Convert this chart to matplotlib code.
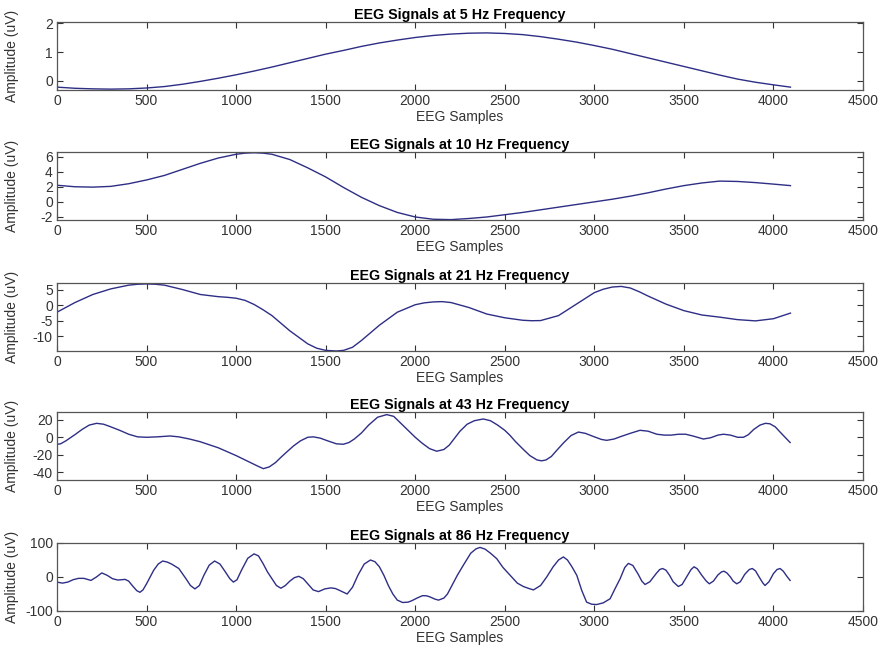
import numpy as np
import matplotlib
matplotlib.use('Agg')
import matplotlib.pyplot as plt

plt.rcParams['font.family'] = ['Liberation Sans', 'DejaVu Sans']
plt.rcParams['axes.unicode_minus'] = False

# values (sample index, amplitude in uV)
freqs = [5, 10, 21, 43, 86]

x1 = [0, 100, 200, 300, 400, 500, 600, 700, 800, 900, 1000, 1100, 1200, 1300, 1400,
      1500, 1600, 1700, 1800, 1900, 2000, 2100, 2200, 2300, 2400, 2500, 2600, 2700,
      2800, 2900, 3000, 3100, 3200, 3300, 3400, 3500, 3600, 3700, 3800, 3900, 4000, 4095]
y1 = [-0.22, -0.26, -0.28, -0.29, -0.28, -0.25, -0.2, -0.12, -0.02, 0.09, 0.21, 0.34,
      0.48, 0.63, 0.78, 0.93, 1.06, 1.2, 1.32, 1.42, 1.51, 1.58, 1.63, 1.66, 1.67, 1.65,
      1.61, 1.54, 1.45, 1.35, 1.23, 1.1, 0.95, 0.8, 0.65, 0.5, 0.35, 0.2, 0.06, -0.05,
      -0.14, -0.22]

x2 = [0, 100, 200, 300, 400, 500, 600, 700, 800, 900, 1000, 1050, 1100, 1150, 1200,
      1300, 1400, 1500, 1600, 1700, 1800, 1900, 2000, 2100, 2200, 2300, 2400, 2500,
      2600, 2700, 2800, 2900, 3000, 3100, 3200, 3300, 3400, 3500, 3600, 3700, 3800,
      3900, 4000, 4095]
y2 = [2.2, 2.0, 1.95, 2.05, 2.4, 2.9, 3.5, 4.3, 5.1, 5.8, 6.3, 6.45, 6.5, 6.45, 6.3,
      5.6, 4.5, 3.3, 1.9, 0.6, -0.5, -1.4, -2.0, -2.3, -2.35, -2.2, -2.0, -1.7, -1.4,
      -1.05, -0.7, -0.35, 0.0, 0.35, 0.75, 1.2, 1.7, 2.15, 2.5, 2.75, 2.7, 2.55, 2.35,
      2.15]

x3 = [0, 100, 200, 300, 400, 450, 500, 550, 600, 700, 800, 900, 950, 1000, 1050, 1100,
      1150, 1200, 1300, 1400, 1450, 1500, 1560, 1600, 1650, 1700, 1800, 1900, 2000,
      2050, 2100, 2150, 2200, 2300, 2400, 2500, 2600, 2650, 2700, 2800, 2900, 3000,
      3050, 3100, 3150, 3200, 3250, 3300, 3400, 3500, 3600, 3700, 3800, 3900, 4000, 4095]
y3 = [-2.3, 0.8, 3.4, 5.2, 6.4, 6.7, 6.8, 6.7, 6.4, 5.0, 3.4, 2.7, 2.5, 2.2, 1.5, 0.2,
      -1.5, -3.4, -8.3, -12.5, -13.9, -14.6, -14.8, -14.6, -13.6, -11.4, -6.5, -2.3,
      0.1, 0.7, 1.0, 1.1, 0.8, -0.8, -2.9, -4.1, -4.9, -5.05, -5.0, -3.4, 0.3, 4.0,
      5.1, 5.8, 6.0, 5.5, 4.3, 2.9, 0.3, -1.8, -3.2, -3.9, -4.7, -5.1, -4.4, -2.6]

x4 = [0, 20, 50, 100, 140, 180, 221, 260, 300, 350, 400, 450, 500, 560, 631, 680, 740,
      798, 900, 1000, 1080, 1120, 1152, 1185, 1220, 1250, 1282, 1320, 1360, 1400, 1431,
      1470, 1510, 1560, 1599, 1630, 1660, 1700, 1740, 1790, 1841, 1880, 1920, 1960,
      2000, 2040, 2080, 2120, 2160, 2190, 2220, 2250, 2290, 2330, 2380, 2420, 2460,
      2500, 2530, 2560, 2604, 2640, 2680, 2706, 2730, 2760, 2790, 2830, 2870, 2911,
      2950, 3000, 3040, 3069, 3110, 3150, 3200, 3255, 3300, 3349, 3390, 3430, 3470,
      3510, 3550, 3609, 3650, 3690, 3721, 3760, 3800, 3833, 3860, 3890, 3925, 3955,
      3980, 4010, 4037, 4065, 4093]
y4 = [-8, -7.5, -4, 3, 9, 14, 16, 15, 12, 8, 3.5, 0.5, 0, 0.5, 1.5, 0.5, -2, -5, -12,
      -21, -29, -33, -36, -34, -29, -23, -17, -10, -4, 0, 0.5, -1, -4, -7.5, -8, -6,
      -2, 5, 14, 23, 26, 24, 16, 8, 0, -7, -13, -16, -14, -9, -1, 7, 15, 19, 21, 19, 14,
      8, 2, -5, -14, -21, -26, -27, -26, -22, -15, -6, 2, 6, 4.5, 0.5, -2.5, -3.5, -2,
      1, 4.5, 8, 7, 3.5, 2.5, 2.5, 3.5, 3.5, 1.5, -2, -0.5, 2.5, 3.5, 2.5, 0, 0, 3, 9,
      14, 16, 15.5, 12, 6, 0, -6]

x5 = [0, 30, 60, 90, 120, 150, 190, 220, 250, 280, 310, 340, 380, 400, 420, 445, 463,
      480, 500, 520, 540, 565, 590, 615, 640, 680, 720, 745, 770, 795, 820, 850, 880,
      910, 940, 965, 985, 1005, 1030, 1065, 1100, 1125, 1150, 1175, 1200, 1225, 1250,
      1275, 1300, 1325, 1350, 1375, 1400, 1430, 1460, 1495, 1530, 1555, 1580, 1620,
      1650, 1680, 1715, 1750, 1775, 1800, 1825, 1850, 1875, 1900, 1930, 1960, 1980,
      2010, 2040, 2060, 2080, 2110, 2130, 2160, 2180, 2200, 2235, 2269, 2310, 2340,
      2362, 2390, 2420, 2455, 2490, 2530, 2570, 2604, 2630, 2660, 2700, 2734, 2770,
      2800, 2827, 2850, 2875, 2902, 2930, 2957, 2985, 3013, 3050, 3088, 3115, 3144,
      3170, 3190, 3215, 3245, 3265, 3283, 3310, 3345, 3365, 3381, 3400, 3420, 3440,
      3469, 3490, 3515, 3540, 3557, 3575, 3600, 3625, 3642, 3665, 3690, 3710, 3724,
      3740, 3760, 3775, 3795, 3815, 3840, 3865, 3882, 3900, 3920, 3940, 3953, 3975,
      4000, 4020, 4037, 4055, 4075, 4093]
y5 = [-15, -18, -15, -8, -4, -4, -10, 0, 12, 5, -5, -9, -7, -12, -25, -40, -45, -38,
      -20, 0, 20, 38, 47, 44, 38, 25, -5, -25, -35, -25, 5, 35, 47, 38, 15, -5, -15, -8,
      20, 55, 68, 62, 40, 15, -5, -25, -33, -25, -12, -2, 2, -5, -20, -38, -43, -35,
      -32, -34, -40, -50, -30, 5, 38, 50, 45, 30, 5, -25, -50, -68, -75, -74, -70, -62,
      -55, -55, -58, -65, -68, -62, -50, -30, 5, 35, 70, 83, 87, 82, 70, 54, 28, 5, -18,
      -28, -33, -38, -25, 0, 30, 50, 59, 50, 30, 5, -40, -74, -80, -81, -76, -64, -35,
      -5, 28, 40, 34, 8, -12, -22, -14, 10, 22, 25, 20, 5, -14, -28, -22, 0, 22, 30,
      24, 5, -12, -20, -12, 6, 15, 17, 12, 0, -12, -20, -14, 8, 22, 25, 18, 0, -17,
      -25, -14, 10, 22, 25, 17, 2, -10]

xs = [x1, x2, x3, x4, x5]
ys = [y1, y2, y3, y4, y5]
ylims = [(-0.32, 2.05), (-2.4, 6.6), (-14.8, 7.1), (-49, 29), (-100, 100)]
yticks = [[0, 1, 2], [-2, 0, 2, 4, 6], [-10, -5, 0, 5], [-40, -20, 0, 20], [-100, 0, 100]]

fig = plt.figure(figsize=(8.85, 6.5), dpi=100)
tops = [22, 152, 283, 412, 543]
h = 68

for k in range(5):
    ax = fig.add_axes([57 / 885, 1 - (tops[k] + h) / 650, 806 / 885, h / 650])
    ax.plot(xs[k], ys[k], color='#2e2e86', lw=1.0)
    ax.set_xlim(0, 4500)
    ax.set_ylim(*ylims[k])
    ax.set_xticks(range(0, 4501, 500))
    ax.set_yticks(yticks[k])
    ax.tick_params(direction='in', length=4, top=True, right=True, labelsize=10,
                   colors='#333333', pad=3)
    for s in ax.spines.values():
        s.set_color('#555555')
        s.set_linewidth(0.9)
    ax.set_title('EEG Signals at %d Hz Frequency' % freqs[k], fontsize=10.3,
                 fontweight='bold', pad=2)
    ax.set_xlabel('EEG Samples', fontsize=10, color='#333333', labelpad=1)
    ax.set_ylabel('Amplitude (uV)', fontsize=10, color='#333333')
    ax.yaxis.set_label_coords(-0.047, 0.5)

plt.savefig('out.png', dpi=100)
